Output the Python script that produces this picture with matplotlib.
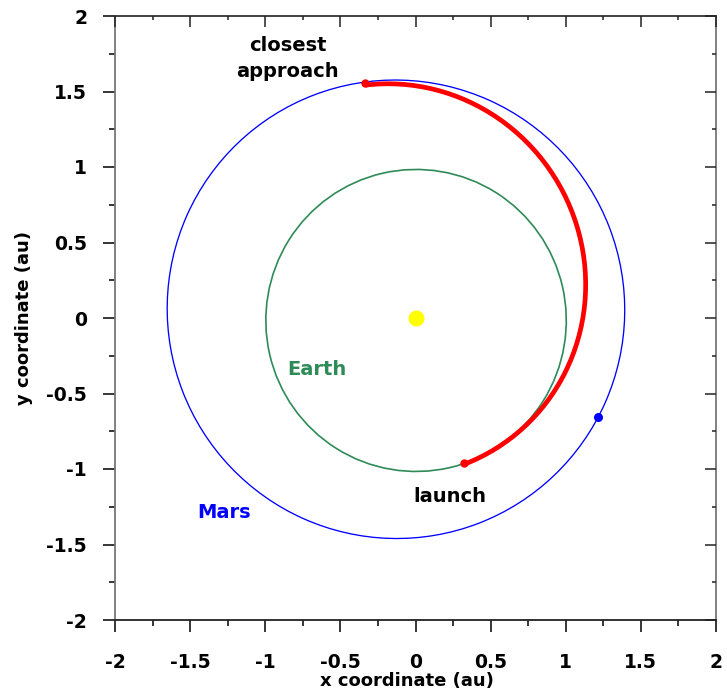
import numpy as np
import matplotlib.pyplot as plt
from matplotlib.patches import Ellipse, Arc
from matplotlib.ticker import MultipleLocator, FormatStrFormatter

plt.rcParams['font.family'] = 'DejaVu Sans'
plt.rcParams['font.weight'] = 'bold'
plt.rcParams['axes.labelweight'] = 'bold'
plt.rcParams['axes.unicode_minus'] = False

# orbital elements: semi-major axis (au), eccentricity, longitude of perihelion (deg)
earth_orbit = (1.0, 0.0167, 102.9)
mars_orbit = (1.5237, 0.0934, 336.04)
transfer_orbit = (1.31, 0.224, -58.5)

# positions (au)
sun_xy = (0.0, 0.0)
launch_xy = (0.323, -0.960)
arrival_xy = (-0.336, 1.556)
mars_now_xy = (1.215, -0.656)

EARTH_COL = '#2e8b57'
MARS_COL = '#0000ff'


def orbit_shape(a, e, varpi):
    # sun sits at one focus, so the ellipse centre is shifted away from perihelion
    w = np.radians(varpi)
    center = (-a * e * np.cos(w), -a * e * np.sin(w))
    return center, 2 * a, 2 * a * np.sqrt(1 - e ** 2), varpi


def arc_angle(pt, center, angle):
    # angle of a point seen from the ellipse centre, in the ellipse's own frame
    dx, dy = pt[0] - center[0], pt[1] - center[1]
    w = np.radians(-angle)
    xr = dx * np.cos(w) - dy * np.sin(w)
    yr = dx * np.sin(w) + dy * np.cos(w)
    return np.degrees(np.arctan2(yr, xr))


def set_ticks(a):
    a.set_xlim(-2, 2)
    a.set_ylim(-2, 2)
    for axis in (a.xaxis, a.yaxis):
        axis.set_major_locator(MultipleLocator(0.5))
        axis.set_minor_locator(MultipleLocator(0.25))
        axis.set_major_formatter(FormatStrFormatter('%g'))


rect = [115 / 727, 80 / 700, 601 / 727, 604 / 700]
fig = plt.figure(figsize=(7.27, 7.0), dpi=100)
ax = fig.add_axes(rect)

c, w, h, ang = orbit_shape(*mars_orbit)
ax.add_patch(Ellipse(c, w, h, angle=ang, fill=False, ec=MARS_COL, lw=0.95))

c, w, h, ang = orbit_shape(*earth_orbit)
ax.add_patch(Ellipse(c, w, h, angle=ang, fill=False, ec=EARTH_COL, lw=1.2))

c, w, h, ang = orbit_shape(*transfer_orbit)
t1 = arc_angle(launch_xy, c, ang)
t2 = arc_angle(arrival_xy, c, ang)
ax.add_patch(Arc(c, w, h, angle=ang, theta1=t1, theta2=t2, color='red', lw=3.4, zorder=3))

ax.plot(*sun_xy, 'o', color='#ffff00', ms=11.5, mec='none', zorder=4)
ax.plot([launch_xy[0], arrival_xy[0]], [launch_xy[1], arrival_xy[1]], 'o',
        color='red', ms=6, mec='none', zorder=4)
ax.plot(*mars_now_xy, 'o', color=MARS_COL, ms=6.5, mec='none', zorder=4)

ax.text(-0.85, 1.72, 'closest\napproach', ha='center', va='center', fontsize=14,
        linespacing=1.45)
ax.text(0.23, -1.185, 'launch', ha='center', va='center', fontsize=14)
ax.text(-0.655, -0.338, 'Earth', ha='center', va='center', fontsize=14, color=EARTH_COL)
ax.text(-1.275, -1.285, 'Mars', ha='center', va='center', fontsize=14, color=MARS_COL)

set_ticks(ax)
ax.xaxis.set_ticks_position('bottom')
ax.yaxis.set_ticks_position('left')
ax.tick_params(which='both', direction='out', width=1.1, color='black', labelsize=13.5)
ax.tick_params(which='major', length=8.6)
ax.tick_params(which='minor', length=4.3)
ax.tick_params(axis='x', which='major', pad=15)
ax.tick_params(axis='y', which='major', pad=11.5)

ax.spines['bottom'].set_color('#222222')
ax.spines['top'].set_color('#333333')
ax.spines['left'].set_color('#777777')
ax.spines['right'].set_color('#777777')
for s in ax.spines.values():
    s.set_linewidth(1.3)

# second frameless axes on top, carrying the inward ticks of the top and right edges
frame = fig.add_axes(rect, frameon=False)
frame.patch.set_visible(False)
set_ticks(frame)
frame.xaxis.set_ticks_position('top')
frame.yaxis.set_ticks_position('right')
frame.tick_params(which='both', direction='in', width=1.1, color='#222222',
                  labeltop=False, labelright=False, labelbottom=False, labelleft=False)
frame.tick_params(which='major', length=8)
frame.tick_params(which='minor', length=3)

ax.set_xlabel('x coordinate (au)', fontsize=13, fontweight='bold')
ax.set_ylabel('y coordinate (au)', fontsize=13, fontweight='bold')
ax.xaxis.set_label_coords(0.486, -0.086)
ax.yaxis.set_label_coords(-0.137, 0.5)

fig.savefig('out.png', dpi=100)
